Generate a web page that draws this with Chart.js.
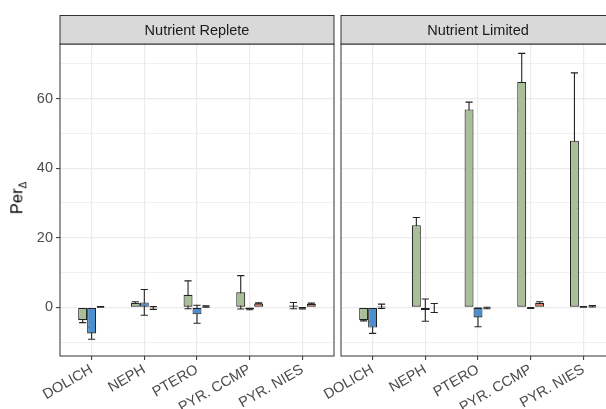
<!DOCTYPE html>
<html><head><meta charset="utf-8">
<script src="https://cdn.jsdelivr.net/npm/chart.js@4/dist/chart.umd.min.js"></script>
<style>
html,body{margin:0;padding:0;background:#fff;width:606px;height:409px;overflow:hidden;position:relative;}
canvas{position:absolute;top:0;}
#c1{left:0}
#c2{left:276px}
#ytitle{position:absolute;left:20px;top:198px;transform:translate(-50%,-50%) rotate(-90deg);font-family:'Liberation Sans',Arial,sans-serif;font-size:16.5px;font-weight:400;color:#000;white-space:nowrap;line-height:20px;}
#ytitle sub{font-size:10px;}
</style></head><body>
<canvas id="c1" width="340" height="409"></canvas>
<canvas id="c2" width="350" height="409"></canvas>
<div id="ytitle">Per<sub>Δ</sub></div>
<script>
const categories = ['DOLICH', 'NEPH', 'PTERO', 'PYR. CCMP', 'PYR. NIES'];
const panelTitles = ['Nutrient Replete', 'Nutrient Limited'];
const yTickValues = [-10, 0, 10, 20, 30, 40, 50, 60, 70];
const yMajorStep = 20;

// Nutrient Replete
const repleteGreen = [-3.7, 1.3, 3.6, 4.3, 0.5];
const repleteGreenErr = [0.7, 0.3, 4.0, 4.8, 0.9];
const repleteBlue = [-7.5, 1.4, -2.0, -0.5, -0.3];
const repleteBlueErr = [1.7, 3.7, 2.6, 0.2, 0.2];
const repleteRed = [0.1, -0.2, 0.2, 1.1, 1.0];
const repleteRedErr = [0.1, 0.4, 0.2, 0.2, 0.2];

// Nutrient Limited
const limitedGreen = [-3.7, 23.6, 56.9, 64.8, 47.9];
const limitedGreenErr = [0.2, 2.2, 2.1, 8.2, 19.5];
const limitedBlue = [-5.8, -0.8, -2.9, -0.2, 0.1];
const limitedBlueErr = [1.7, 3.2, 2.7, 0.1, 0.1];
const limitedRed = [0.3, -0.2, -0.2, 1.3, 0.3];
const limitedRedErr = [0.6, 1.3, 0.2, 0.3, 0.2];

const seriesColors = ['#a9bf99', '#4b8fcf', '#e27d5c'];
const FONT = "'Liberation Sans', Arial, sans-serif";

function toXY(arr) { return arr.map((v, i) => ({ x: i + 1, y: v })); }

const errorBarPlugin = {
  id: 'errorBars',
  beforeDatasetsDraw(chart) {
    const ctx = chart.ctx;
    const yS = chart.scales.y;
    ctx.save();
    ctx.strokeStyle = '#222';
    ctx.lineWidth = 1.1;
    chart.data.datasets.forEach((ds, i) => {
      const meta = chart.getDatasetMeta(i);
      meta.data.forEach((el, j) => {
        const v = ds.data[j].y, e = ds.errors[j];
        const x = el.x, hw = el.width * 0.4;
        const yTop = yS.getPixelForValue(v + e), yBot = yS.getPixelForValue(v - e);
        ctx.beginPath();
        ctx.moveTo(x, yTop); ctx.lineTo(x, yBot);
        ctx.moveTo(x - hw, yTop); ctx.lineTo(x + hw, yTop);
        ctx.moveTo(x - hw, yBot); ctx.lineTo(x + hw, yBot);
        ctx.stroke();
      });
    });
    ctx.restore();
  }
};

const framePlugin = {
  id: 'frame',
  afterDraw(chart, args, opts) {
    const ctx = chart.ctx, a = chart.chartArea;
    ctx.save();
    ctx.strokeStyle = '#333';
    ctx.lineWidth = 1;
    ctx.strokeRect(a.left, a.top, a.right - a.left, a.bottom - a.top);
    const sTop = 15.5;
    ctx.fillStyle = '#d9d9d9';
    ctx.fillRect(a.left, sTop, a.right - a.left, a.top - sTop);
    ctx.strokeRect(a.left, sTop, a.right - a.left, a.top - sTop);
    ctx.fillStyle = '#1a1a1a';
    ctx.font = '14.5px ' + FONT;
    ctx.textAlign = 'center';
    ctx.textBaseline = 'middle';
    ctx.fillText(opts.title, (a.left + a.right) / 2, (sTop + a.top) / 2 + 1);
    ctx.restore();
  }
};

function makeChart(id, title, series, errs, showY, padding) {
  const datasets = series.map((s, k) => ({
    data: toXY(s),
    errors: errs[k],
    backgroundColor: seriesColors[k],
    borderColor: '#222',
    borderWidth: 1.1,
    borderSkipped: false,
    categoryPercentage: 0.51,
    barPercentage: 1.0
  }));
  return new Chart(document.getElementById(id), {
    type: 'bar',
    data: { datasets },
    plugins: [errorBarPlugin, framePlugin],
    options: {
      responsive: false,
      animation: false,
      devicePixelRatio: 1,
      layout: { padding },
      plugins: { legend: { display: false }, tooltip: { enabled: false }, frame: { title } },
      scales: {
        x: {
          type: 'linear', min: 0.4, max: 5.6, offset: false,
          afterBuildTicks(scale) { scale.ticks = categories.map((c, i) => ({ value: i + 1 })); },
          afterFit(scale) { scale.height = 53; scale.paddingLeft = 0; scale.paddingRight = 0; },
          grid: { offset: false, color: '#ebebeb', lineWidth: 1.2, tickColor: '#333', tickLength: 4, tickWidth: 1 },
          border: { display: false },
          ticks: {
            autoSkip: false, maxRotation: 30, minRotation: 30, padding: 1,
            color: '#4d4d4d', font: { family: FONT, size: 14.5 },
            callback: (v) => categories[v - 1]
          }
        },
        y: {
          min: -14, max: 75.7,
          afterBuildTicks(scale) { scale.ticks = yTickValues.map(v => ({ value: v })); },
          afterFit(scale) { scale.width = showY ? 60 : 0; },
          grid: {
            color: '#ebebeb',
            lineWidth: (c) => (c.tick && c.tick.value % yMajorStep === 0) ? 1.2 : 0.7,
            drawTicks: showY, tickLength: 4, tickWidth: 1,
            tickColor: (c) => (c.tick && c.tick.value % yMajorStep === 0) ? '#333' : 'rgba(0,0,0,0)'
          },
          border: { display: false },
          ticks: {
            display: showY, padding: 3, color: '#4d4d4d', font: { family: FONT, size: 14.5 },
            callback: (v) => (v % yMajorStep === 0 ? String(v) : '')
          }
        }
      }
    }
  });
}

makeChart('c1', panelTitles[0], [repleteGreen, repleteBlue, repleteRed], [repleteGreenErr, repleteBlueErr, repleteRedErr], true, { left: 0, right: 6, top: 44, bottom: 0 });
makeChart('c2', panelTitles[1], [limitedGreen, limitedBlue, limitedRed], [limitedGreenErr, limitedBlueErr, limitedRedErr], false, { left: 65, right: 11, top: 44, bottom: 0 });
</script>
</body></html>
